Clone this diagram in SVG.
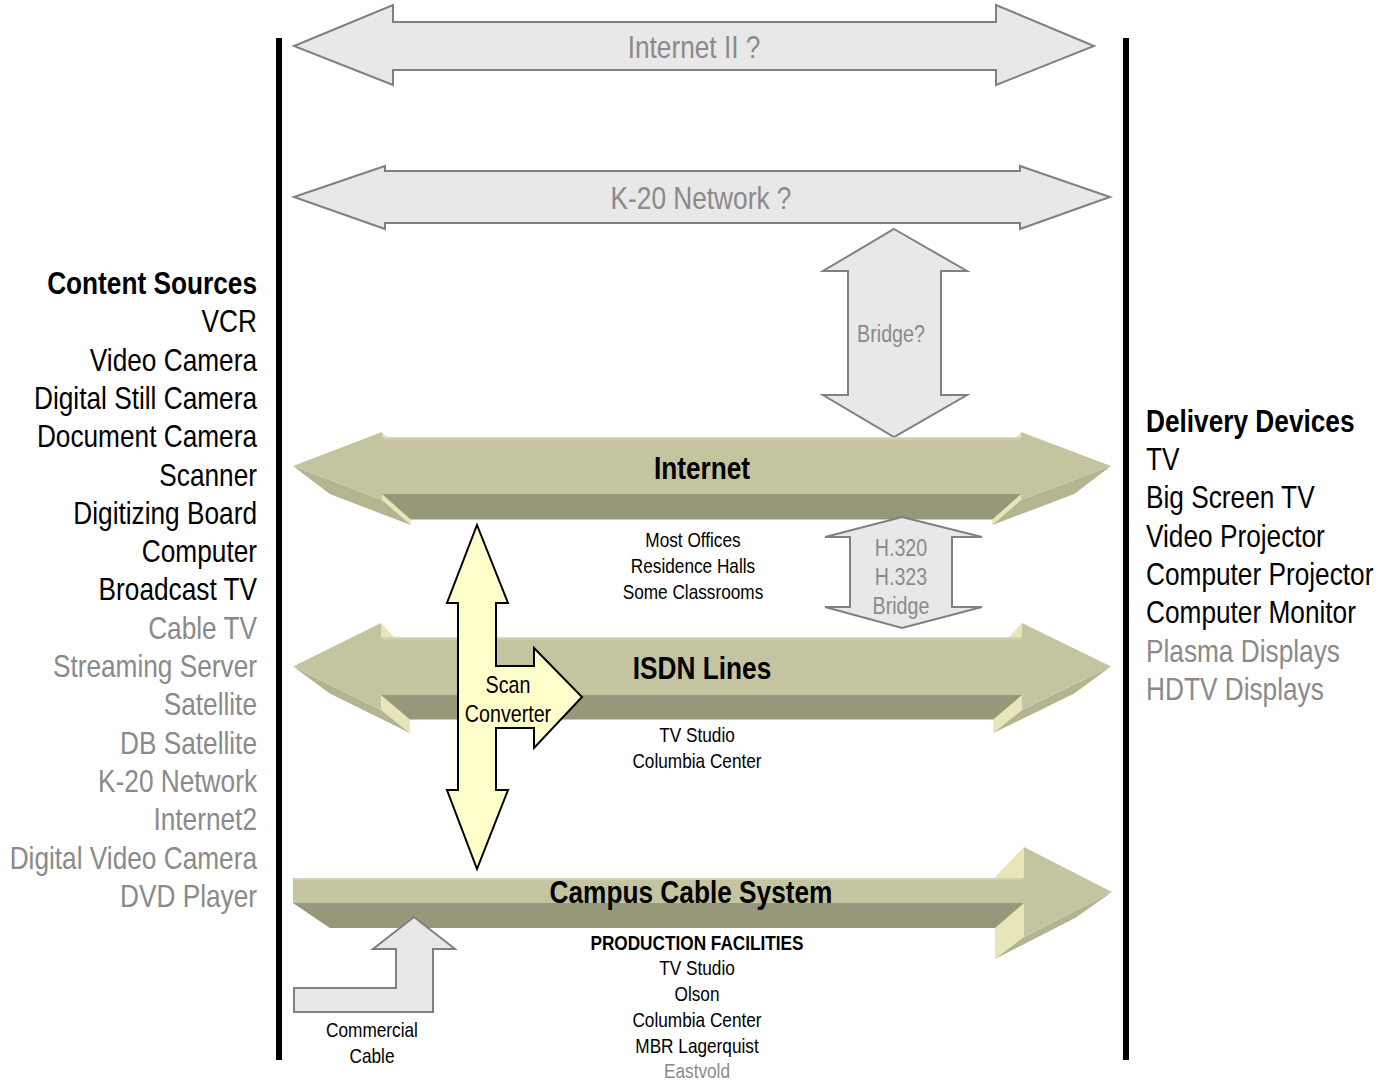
<svg xmlns="http://www.w3.org/2000/svg" width="1392" height="1083" viewBox="0 0 1392 1083">
<style>
text{font-family:"Liberation Sans",Arial,sans-serif;}
.big{font-size:32px;}
.mid{font-size:24px;}
.sm{font-size:21px;}
.b{font-weight:bold;}
.g{fill:#8a8a8a;}
.k{fill:#000;}
.c{text-anchor:middle;}
.e{text-anchor:end;}
.gray{fill:#e8e8e8;stroke:#808080;stroke-width:2;stroke-linejoin:miter;}
.front{fill:#c4c4a0;}
.dark{fill:#97977a;}
.pale{fill:#e6e6b8;}
.med{fill:#b4b490;}
.hl{stroke:#d2d2b2;stroke-width:2;}
.scan{fill:#ffffcc;stroke:#000;stroke-width:2;}
</style>
<rect width="1392" height="1083" fill="#fff"/>
<g id="bars">
<rect x="276" y="38" width="6" height="1022" fill="#000"/>
<rect x="1123" y="38" width="6" height="1022" fill="#000"/>
</g>
<g id="connectors">
<g id="internet2-arrow">
<polygon class="gray" points="294,46 393,5 393,22 996,22 996,5 1094,46 996,85 996,70 393,70 393,85"/>
<text class="big g c" transform="scale(0.82,1)" x="846.34" y="58">Internet II ?</text>
</g>
<g id="k20-arrow">
<polygon class="gray" points="294,197 385,166 385,171 1020,171 1020,166 1110,197 1020,229 1020,223 385,223 385,229"/>
<text class="big g c" transform="scale(0.82,1)" x="854.88" y="209">K-20 Network ?</text>
</g>
<g id="bridge-arrow">
<polygon class="gray" points="894,229 967,271 941,271 941,395 967,395 894,437 823,395 848,395 848,271 823,271"/>
<text class="mid g c" transform="scale(0.82,1)" x="1086.59" y="342.5">Bridge?</text>
</g>
<g id="internet-arrow">
<polygon class="pale" points="382,432 382,500 410.8,525 410.8,463.1"/>
<polygon class="pale" points="1021,432 1021,500 992.3,525 992.3,463.1"/>
<polygon class="dark" points="382,494 1021,494 992.3,519.6 410.8,519.6"/>
<polygon class="med" points="293,466 382,500 410.8,525 329.8,494.1"/>
<polygon class="med" points="1111,466 1021,500 992.3,525 1074.2,494.1"/>
<polygon class="front" points="293,466 382,432 382,437.5 1021,437.5 1021,432 1111,466 1021,500 1021,494 382,494 382,500"/>
<line class="hl" x1="384" y1="438.5" x2="1020" y2="438.5"/>
<text class="big b k c" transform="scale(0.82,1)" x="856.10" y="479">Internet</text>
</g>
<g id="h320-arrow">
<polygon class="gray" points="902,517 982,537 952,537 952,607 982,607 902,628 825,607 850,607 850,537 825,537"/>
<g transform="scale(0.82,1)">
<text class="mid g c" x="1098.78" y="556.5">H.320</text>
<text class="mid g c" x="1098.78" y="585.5">H.323</text>
<text class="mid g c" x="1098.78" y="614.5">Bridge</text>
</g>
</g>
<g id="isdn-arrow">
<polygon class="pale" points="381,623 381,710 409.9,733 409.9,653.9"/>
<polygon class="pale" points="1022,623 1022,710 993.2,733 993.2,653.9"/>
<polygon class="dark" points="381,695 1022,695 993.2,719.4 409.9,719.4"/>
<polygon class="med" points="293,666.5 381,710 409.9,733 329.8,693.5"/>
<polygon class="med" points="1111,666.5 1022,710 993.2,733 1074.2,693.5"/>
<polygon class="front" points="293,666.5 381,623 381,637.5 1022,637.5 1022,623 1111,666.5 1022,710 1022,695 381,695 381,710"/>
<line class="hl" x1="383" y1="638.5" x2="1021" y2="638.5"/>
<text class="big b k c" transform="scale(0.82,1)" x="856.10" y="679">ISDN Lines</text>
</g>
<g id="campus-arrow">
<polygon class="pale" points="1024,847 1024,937 995,958.9 995,877.1"/>
<polygon class="dark" points="293,903 1024,903 995,928 329.8,928"/>
<polygon class="med" points="1112,892 1024,937 995,958.9 1075.1,918"/>
<polygon class="front" points="293,878 1024,878 1024,847 1112,892 1024,937 1024,903 293,903"/>
<line class="hl" x1="294" y1="879" x2="1023" y2="879"/>
<text class="big b k c" transform="scale(0.82,1)" x="842.68" y="903">Campus Cable System</text>
</g>
<g id="scan-converter">
<polygon class="scan" points="477,525 508,603 496,603 496,666 534,666 534,648 582,697 534,748 534,728 496,728 496,790 508,790 477,869 447,790 458,790 458,603 447,603"/>
<g transform="scale(0.82,1)">
<text class="mid k c" x="619.51" y="693.5">Scan</text>
<text class="mid k c" x="619.51" y="722">Converter</text>
</g>
</g>
<g id="commercial-cable">
<polygon class="gray" points="414,917 455,949 433,949 433,1012 294,1012 294,988 396,988 396,949 373,949"/>
<g transform="scale(0.82,1)">
<text class="sm k c" x="453.66" y="1037.5">Commercial</text>
<text class="sm k c" x="453.66" y="1063.5">Cable</text>
</g>
</g>
</g>
<g id="internet-notes" transform="scale(0.82,1)">
<text class="sm k c" x="845.12" y="547.5">Most Offices</text>
<text class="sm k c" x="845.12" y="573.5">Residence Halls</text>
<text class="sm k c" x="845.12" y="599.5">Some Classrooms</text>
</g>
<g id="isdn-notes" transform="scale(0.82,1)">
<text class="sm k c" x="850" y="742.5">TV Studio</text>
<text class="sm k c" x="850" y="768.5">Columbia Center</text>
</g>
<g id="production-facilities" transform="scale(0.82,1)">
<text class="sm b k c" x="850" y="950.5">PRODUCTION FACILITIES</text>
<text class="sm k c" x="850" y="975.5">TV Studio</text>
<text class="sm k c" x="850" y="1001.5">Olson</text>
<text class="sm k c" x="850" y="1027.5">Columbia Center</text>
<text class="sm k c" x="850" y="1053.5">MBR Lagerquist</text>
<text class="sm g c" x="850" y="1078.5">Eastvold</text>
</g>
<g id="content-sources" transform="scale(0.82,1)">
<text class="big b k e" x="313.41" y="294">Content Sources</text>
<text class="big k e" x="313.41" y="332">VCR</text>
<text class="big k e" x="313.41" y="371">Video Camera</text>
<text class="big k e" x="313.41" y="409">Digital Still Camera</text>
<text class="big k e" x="313.41" y="447">Document Camera</text>
<text class="big k e" x="313.41" y="486">Scanner</text>
<text class="big k e" x="313.41" y="524">Digitizing Board</text>
<text class="big k e" x="313.41" y="562">Computer</text>
<text class="big k e" x="313.41" y="600">Broadcast TV</text>
<text class="big g e" x="313.41" y="639">Cable TV</text>
<text class="big g e" x="313.41" y="677">Streaming Server</text>
<text class="big g e" x="313.41" y="715">Satellite</text>
<text class="big g e" x="313.41" y="754">DB Satellite</text>
<text class="big g e" x="313.41" y="792">K-20 Network</text>
<text class="big g e" x="313.41" y="830">Internet2</text>
<text class="big g e" x="313.41" y="869">Digital Video Camera</text>
<text class="big g e" x="313.41" y="907">DVD Player</text>
</g>
<g id="delivery-devices" transform="scale(0.82,1)">
<text class="big b k" x="1397.56" y="432">Delivery Devices</text>
<text class="big k" x="1397.56" y="470">TV</text>
<text class="big k" x="1397.56" y="508">Big Screen TV</text>
<text class="big k" x="1397.56" y="547">Video Projector</text>
<text class="big k" x="1397.56" y="585">Computer Projector</text>
<text class="big k" x="1397.56" y="623">Computer Monitor</text>
<text class="big g" x="1397.56" y="662">Plasma Displays</text>
<text class="big g" x="1397.56" y="700">HDTV Displays</text>
</g>
</svg>
